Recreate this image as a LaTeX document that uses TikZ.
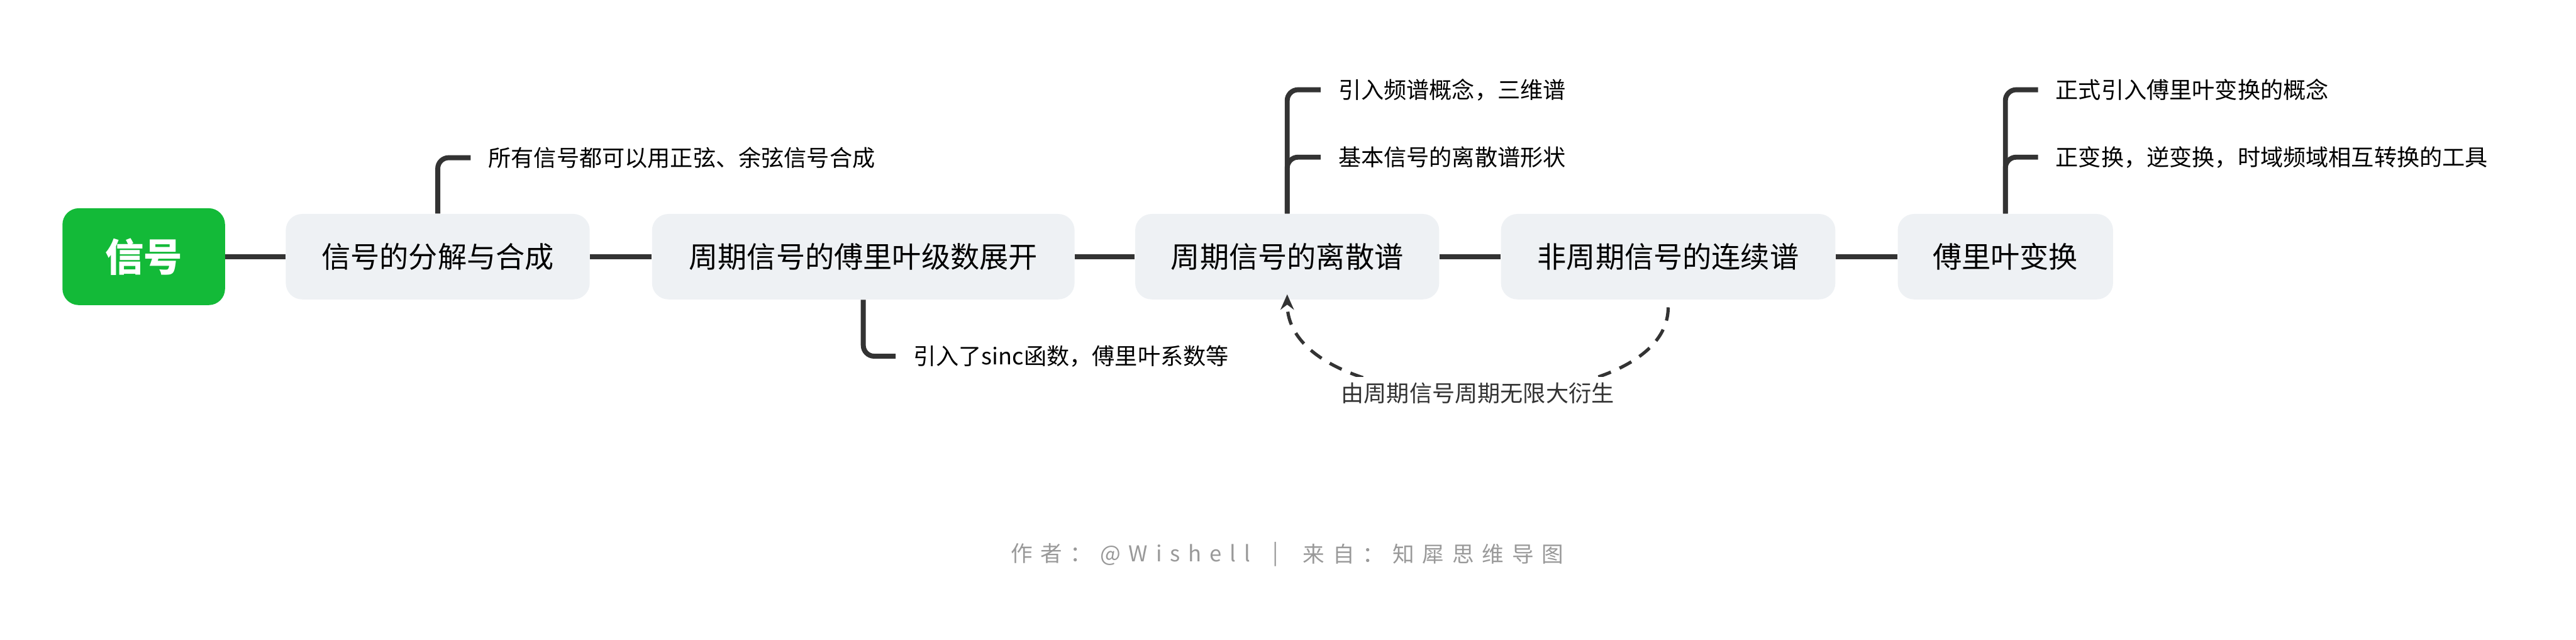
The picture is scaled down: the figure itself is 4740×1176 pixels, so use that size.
\documentclass[tikz,border=0pt]{standalone}
\usepackage{fontspec}
\setmainfont{Noto Sans CJK SC}
\newfontfamily\footfont[LetterSpace=37]{Noto Sans CJK SC}
\usetikzlibrary{arrows.meta}
\definecolor{nodefill}{HTML}{EEF1F4}
\definecolor{rootgreen}{HTML}{13BA38}
\definecolor{linec}{HTML}{333333}
\definecolor{footc}{HTML}{999999}
\begin{document}
\begin{tikzpicture}[x=0.01cm,y=-0.01cm,
  rootbox/.style={fill=rootgreen, rounded corners=0.3cm, minimum width=2.99cm, minimum height=1.78cm, inner sep=0pt, text=white, font=\bfseries\fontsize{20.2pt}{24pt}\selectfont},
  mainbox/.style={fill=nodefill, rounded corners=0.3cm, minimum height=1.57cm, inner sep=0pt, text=black, font=\fontsize{15.2pt}{18pt}\selectfont},
  leaf/.style={anchor=west, inner xsep=0.32cm, inner ysep=0pt, text=black, font=\fontsize{11.9pt}{14pt}\selectfont},
  conn/.style={draw=linec, line width=2.6pt},
  branch/.style={draw=linec, line width=2.6pt, rounded corners=0.2cm},
  derive/.style={draw=linec, line width=1.7pt, dash pattern=on 7pt off 5pt, -{Stealth[length=8pt,width=7pt]}},
  lbl/.style={fill=white, inner xsep=4pt, inner ysep=3pt, text=linec, font=\fontsize{11.9pt}{14pt}\selectfont},
  foottext/.style={text=footc, inner sep=0pt, font=\footfont\fontsize{11.4pt}{14pt}\selectfont}]
\useasboundingbox (0,0) rectangle (4740,1176);
\node[rootbox] (root) at (264.5,472) {信号};
\node[mainbox, minimum width=5.59cm] (n1) at (805.5,472) {信号的分解与合成};
\node[mainbox, minimum width=7.77cm] (n2) at (1588.5,472) {周期信号的傅里叶级数展开};
\node[mainbox, minimum width=5.59cm] (n3) at (2368.5,472) {周期信号的离散谱};
\node[mainbox, minimum width=6.15cm] (n4) at (3069.5,472) {非周期信号的连续谱};
\node[mainbox, minimum width=3.96cm] (n5) at (3690,472) {傅里叶变换};

\draw[conn] (root) -- (n1);
\draw[conn] (n1) -- (n2);
\draw[conn] (n2) -- (n3);
\draw[conn] (n3) -- (n4);
\draw[conn] (n4) -- (n5);

\node[leaf] (c1) at (866,290) {所有信号都可以用正弦、余弦信号合成};
\node[leaf] (c2) at (1648,655) {引入了sinc函数，傅里叶系数等};
\node[leaf] (c3) at (2430,165) {引入频谱概念，三维谱};
\node[leaf] (c4) at (2430,289) {基本信号的离散谱形状};
\node[leaf] (c5) at (3750,165) {正式引入傅里叶变换的概念};
\node[leaf] (c6) at (3750,289) {正变换，逆变换，时域频域相互转换的工具};

\draw[branch] (n1.north) |- (c1.west);
\draw[branch] (n2.south) |- (c2.west);
\draw[branch] (n3.north) |- (c3.west);
\draw[branch] (n3.north) |- (c4.west);
\draw[branch] (n5.north) |- (c5.west);
\draw[branch] (n5.north) |- (c6.west);

\draw[derive] ([yshift=-0.14cm]n4.south) .. controls (3069.5,780) and (2368.5,780) .. ([yshift=0.1cm]n3.south)
  node[lbl, pos=0.5] (dl) {由周期信号周期无限大衍生};

\node[foottext, anchor=west] (footl) at (1859,1019) {作者：@Wishell};
\node[foottext] (footbar) at (2347,1019) {|};
\node[foottext, anchor=west] (footr) at (2397,1019) {来自：知犀思维导图};
\end{tikzpicture}
\end{document}
